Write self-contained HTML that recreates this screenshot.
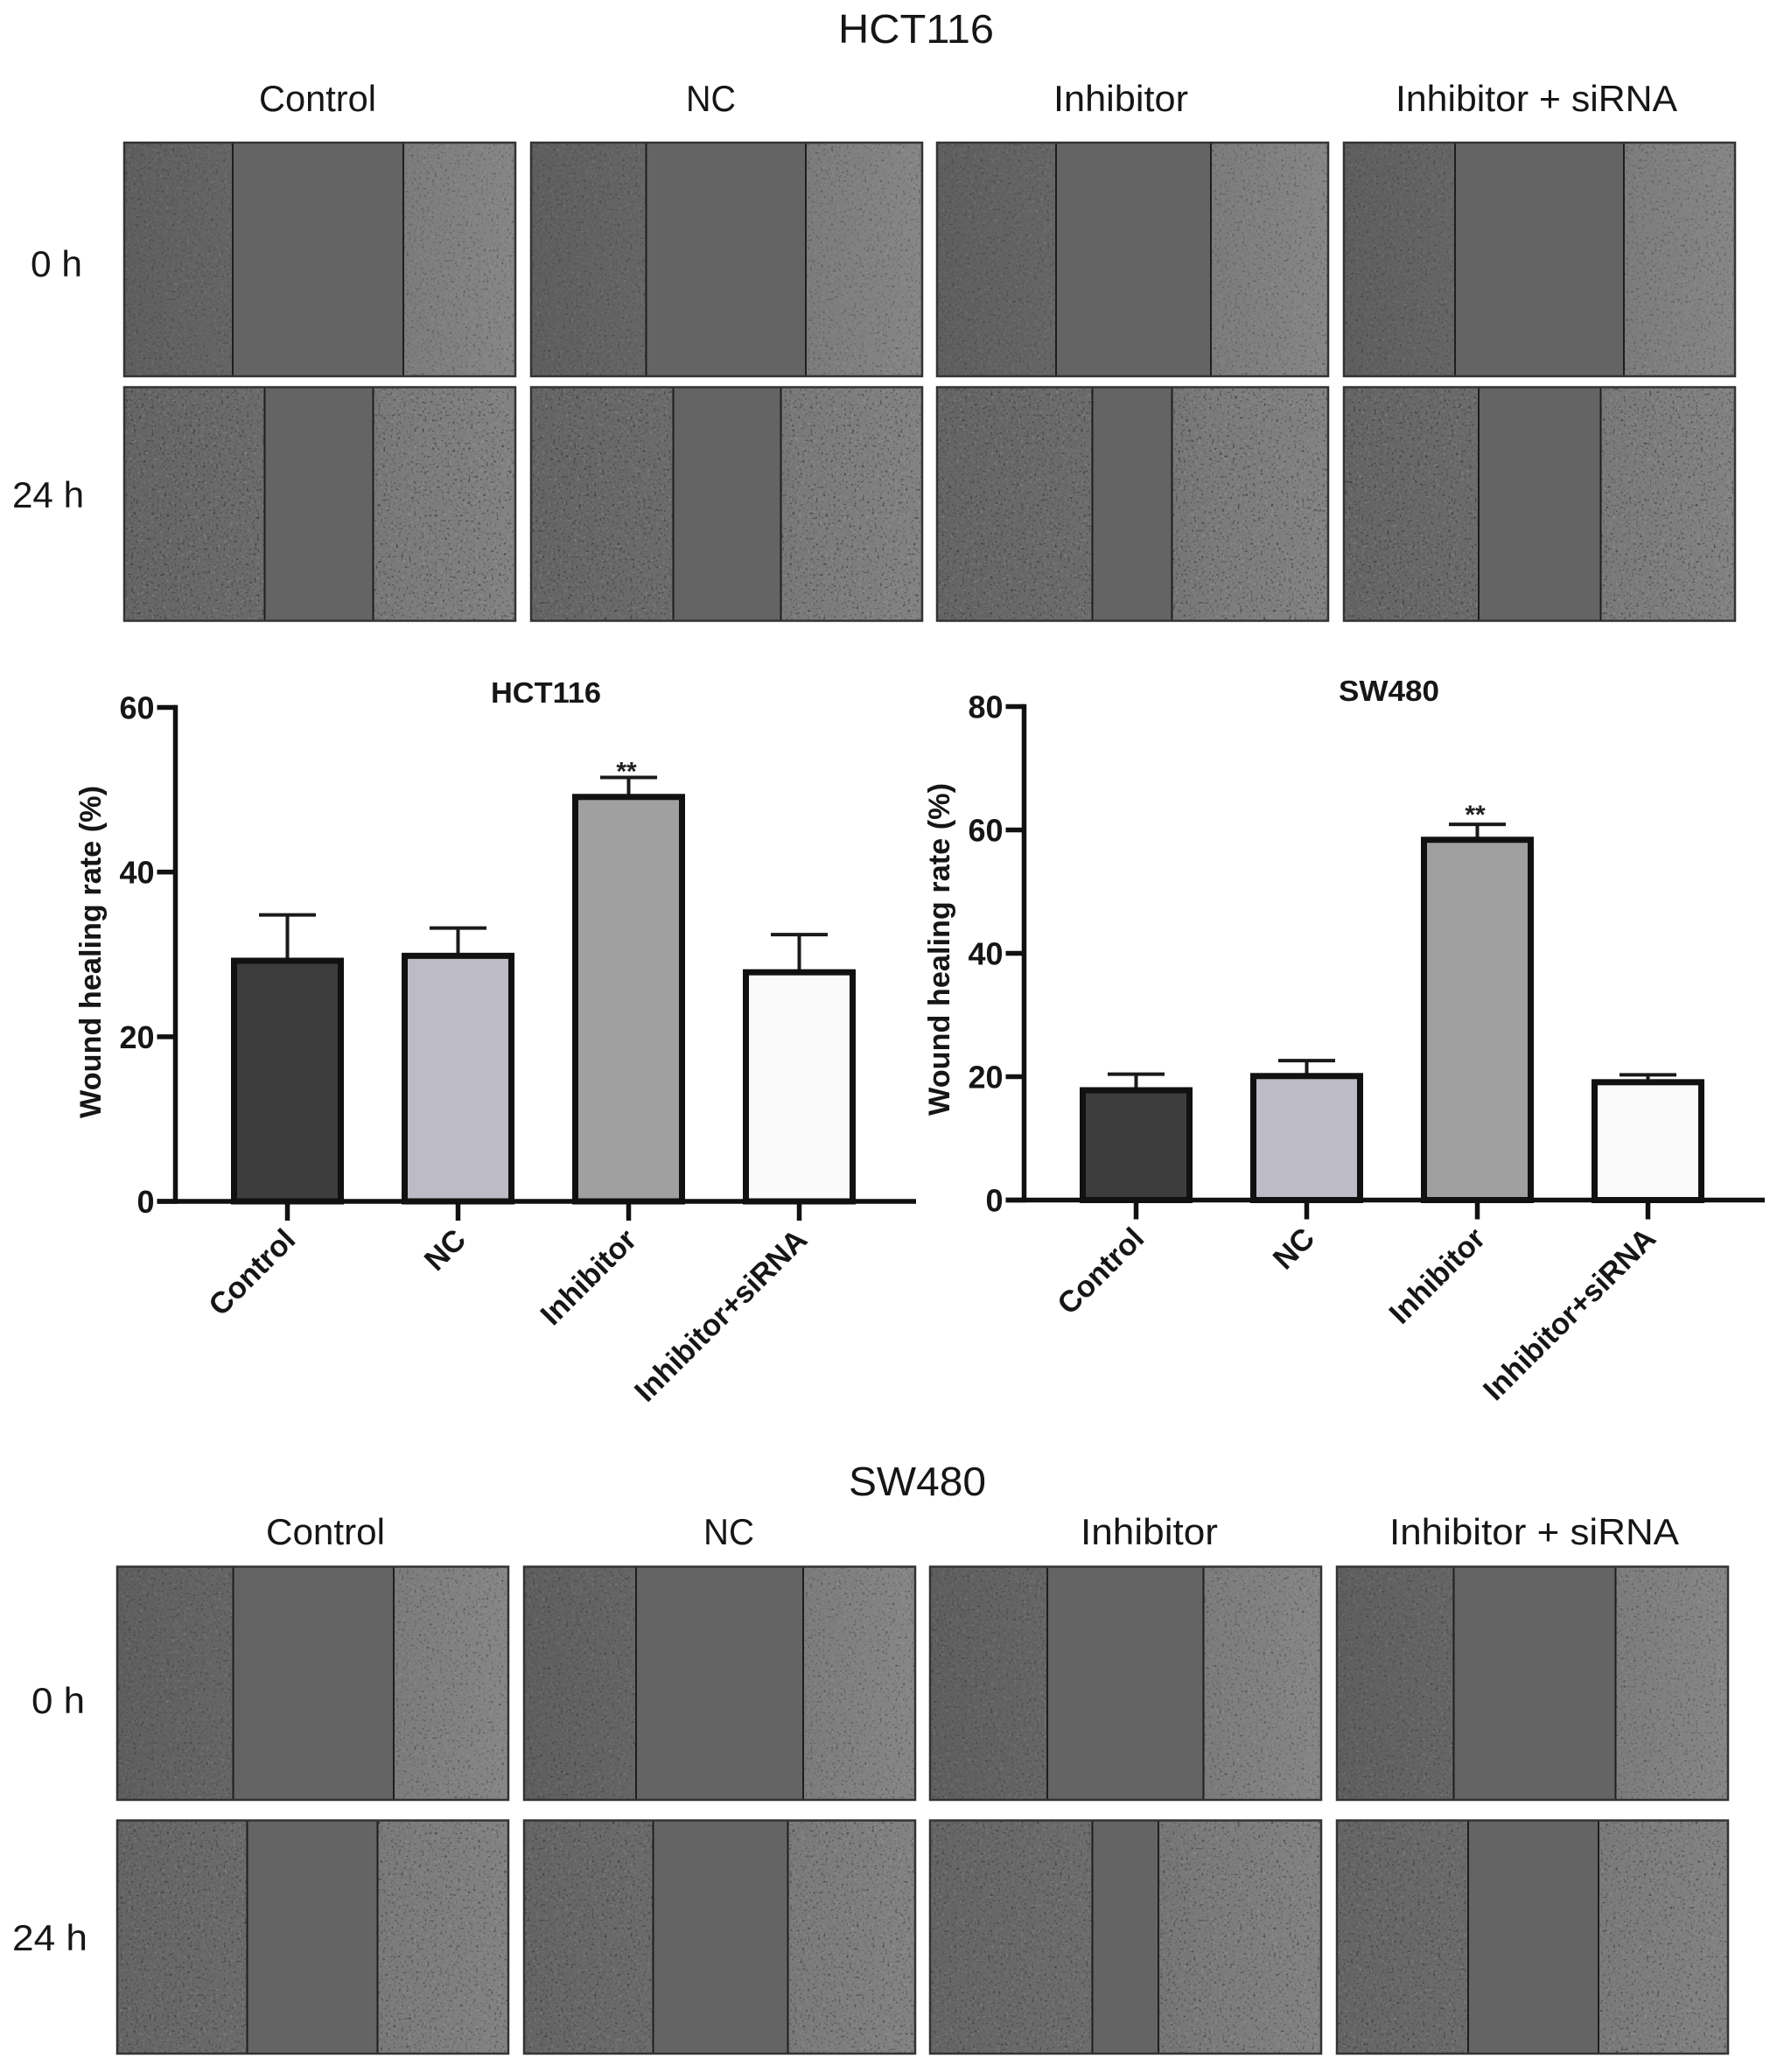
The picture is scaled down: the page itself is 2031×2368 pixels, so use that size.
<!DOCTYPE html>
<html lang="en">
<head>
<meta charset="utf-8">
<title>Wound healing assay: HCT116 and SW480</title>
<style>
html,body{margin:0;padding:0;background:#fff;}
svg{display:block;}
text{font-family:"Liberation Sans",Arial,sans-serif;fill:#161616;}
.b{font-weight:bold;}
</style>
</head>
<body>
<svg id="figure" xmlns="http://www.w3.org/2000/svg" width="2031" height="2368" viewBox="0 0 2031 2368">
<defs>
<filter id="darkSpeck" x="0" y="0" width="100%" height="100%" color-interpolation-filters="sRGB">
<feTurbulence type="fractalNoise" baseFrequency="0.34" numOctaves="2" seed="4"/>
<feColorMatrix type="matrix" values="0 0 0 0 0.14  0 0 0 0 0.14  0 0 0 0 0.14  5 0 0 0 -3"/>
</filter>
<filter id="lightSpeck" x="0" y="0" width="100%" height="100%" color-interpolation-filters="sRGB">
<feTurbulence type="fractalNoise" baseFrequency="0.3" numOctaves="2" seed="11"/>
<feColorMatrix type="matrix" values="0 0 0 0 0.8  0 0 0 0 0.8  0 0 0 0 0.8  0 3 0 0 -1.7"/>
</filter>
<linearGradient id="tissue0" x1="0" x2="1" y1="0" y2="0">
<stop offset="0" stop-color="#5e5e5e"/><stop offset="0.45" stop-color="#696969"/><stop offset="0.7" stop-color="#7b7b7b"/><stop offset="1" stop-color="#868686"/>
</linearGradient>
<linearGradient id="tissue24" x1="0" x2="1" y1="0" y2="0">
<stop offset="0" stop-color="#646464"/><stop offset="0.45" stop-color="#6d6d6d"/><stop offset="0.7" stop-color="#7a7a7a"/><stop offset="1" stop-color="#828282"/>
</linearGradient>
</defs>
<rect width="2031" height="2368" fill="#fff"/>

<g id="hct-images"></g>
<g id="sw-images"></g>

<text x="958" y="49" font-size="46" textLength="178" lengthAdjust="spacingAndGlyphs">HCT116</text>
<text x="296" y="127" font-size="42" textLength="134" lengthAdjust="spacingAndGlyphs">Control</text>
<text x="784" y="127" font-size="42" textLength="57" lengthAdjust="spacingAndGlyphs">NC</text>
<text x="1204" y="127" font-size="42" textLength="154" lengthAdjust="spacingAndGlyphs">Inhibitor</text>
<text x="1595" y="127" font-size="42" textLength="322" lengthAdjust="spacingAndGlyphs">Inhibitor + siRNA</text>
<text x="35" y="316" font-size="42" textLength="59" lengthAdjust="spacingAndGlyphs">0 h</text>
<text x="14" y="580" font-size="42" textLength="82" lengthAdjust="spacingAndGlyphs">24 h</text>

<text x="970" y="1709" font-size="46" textLength="157" lengthAdjust="spacingAndGlyphs">SW480</text>
<text x="304" y="1765" font-size="42" textLength="136" lengthAdjust="spacingAndGlyphs">Control</text>
<text x="804" y="1765" font-size="42" textLength="58" lengthAdjust="spacingAndGlyphs">NC</text>
<text x="1235" y="1765" font-size="42" textLength="157" lengthAdjust="spacingAndGlyphs">Inhibitor</text>
<text x="1588" y="1765" font-size="42" textLength="331" lengthAdjust="spacingAndGlyphs">Inhibitor + siRNA</text>
<text x="36" y="1958" font-size="42" textLength="61" lengthAdjust="spacingAndGlyphs">0 h</text>
<text x="14" y="2229" font-size="42" textLength="86" lengthAdjust="spacingAndGlyphs">24 h</text>

<g id="chart-hct">
<text class="b" x="561" y="803" font-size="33" textLength="126" lengthAdjust="spacingAndGlyphs">HCT116</text>
<text class="b" transform="translate(115 1278) rotate(-90)" x="0" y="0" font-size="34" textLength="380" lengthAdjust="spacingAndGlyphs">Wound healing rate (%)</text>
</g>
<g id="chart-sw">
<text class="b" x="1530" y="801" font-size="33" textLength="115" lengthAdjust="spacingAndGlyphs">SW480</text>
<text class="b" transform="translate(1085 1275) rotate(-90)" x="0" y="0" font-size="34" textLength="380" lengthAdjust="spacingAndGlyphs">Wound healing rate (%)</text>
</g>
</svg>

<script>
// Chart data
const categories = ['Control', 'NC', 'Inhibitor', 'Inhibitor+siRNA'];
const barFills = ['#3d3d3d', '#bcbbc6', '#a0a0a0', '#fafafa'];
const hctMeans = [29.6, 30.2, 49.5, 28.2];
const hctErrors = [5.2, 3.0, 2.0, 4.2];
const hctTicks = [0, 20, 40, 60];
const hctMarks = ['', '', '**', ''];
const swMeans = [18.3, 20.6, 58.9, 19.6];
const swErrors = [2.1, 2.0, 2.0, 0.7];
const swTicks = [0, 20, 40, 60, 80];
const swMarks = ['', '', '**', ''];

// Micrograph wound edges, one [left,right] pair per column
const hctWound0h = [[266, 461], [738.5, 921], [1207, 1384], [1663, 1856]];
const hctWound24h = [[302.5, 426.5], [769.5, 892.5], [1248.5, 1339.5], [1690, 1829.5]];
const swWound0h = [[266.5, 450], [727, 918], [1197, 1375.5], [1661.5, 1846.5]];
const swWound24h = [[282.5, 431.5], [746.5, 900.5], [1248.5, 1324], [1678, 1827]];

const NS = 'http://www.w3.org/2000/svg';
function mk(parent, tag, attrs, txt) {
  const n = document.createElementNS(NS, tag);
  for (const k in attrs) n.setAttribute(k, attrs[k]);
  if (txt !== undefined) n.textContent = txt;
  parent.appendChild(n);
  return n;
}

function drawMicrograph(parent, label, left, top, w, h, wound, grad, speckle) {
  const g = mk(parent, 'g', {});
  
  
  mk(g, 'rect', { x: left, y: top, width: w, height: h, fill: 'url(#' + grad + ')' });
  mk(g, 'rect', { x: left, y: top, width: w, height: h, filter: 'url(#darkSpeck)', opacity: speckle });
  mk(g, 'rect', { x: left, y: top, width: w, height: h, filter: 'url(#lightSpeck)', opacity: speckle * 0.45 });
  const band = mk(g, 'rect', { x: wound[0], y: top, width: wound[1] - wound[0], height: h, fill: '#646464' });
  
  
  mk(g, 'line', { x1: wound[0], x2: wound[0], y1: top, y2: top + h, stroke: '#1e1e1e', 'stroke-width': 2 });
  mk(g, 'line', { x1: wound[1], x2: wound[1], y1: top, y2: top + h, stroke: '#1e1e1e', 'stroke-width': 2 });
  mk(g, 'rect', { x: left, y: top, width: w, height: h, fill: 'none', stroke: '#333', 'stroke-width': 2.5 });
}

const groupNames = ['control', 'nc', 'inhibitor', 'inhibitor-sirna'];
const hctLefts = [142, 607, 1071, 1536];
const swLefts = [134, 599, 1063, 1528];
const hctG = document.getElementById('hct-images');
const swG = document.getElementById('sw-images');
groupNames.forEach(function (name, i) {
  drawMicrograph(hctG, 'hct116-' + name + '-0h-image', hctLefts[i], 163, 447, 267, hctWound0h[i], 'tissue0', 0.4);
  drawMicrograph(hctG, 'hct116-' + name + '-24h-image', hctLefts[i], 442.5, 447, 267, hctWound24h[i], 'tissue24', 0.6);
  drawMicrograph(swG, 'sw480-' + name + '-0h-image', swLefts[i], 1790.5, 447, 266.5, swWound0h[i], 'tissue0', 0.45);
  drawMicrograph(swG, 'sw480-' + name + '-24h-image', swLefts[i], 2080.5, 447, 266.5, swWound24h[i], 'tissue24', 0.55);
});

function drawChart(prefix, root, means, errors, ticks, marks, x0, xEnd, y0, yTop, firstCenter, starOffset) {
  const yMax = ticks[ticks.length - 1];
  const yScale = function (v) { return y0 - (v / yMax) * (y0 - yTop); };
  const xScale = function (i) { return firstCenter + i * 195; };
  const barHalf = 61;

  means.forEach(function (m, i) {
    const cx = xScale(i);
    const top = yScale(m);
    const err = mk(root, 'g', {});
    
    
    const capY = yScale(m + errors[i]);
    mk(err, 'line', { x1: cx, x2: cx, y1: top + 2, y2: capY, stroke: '#1a1a1a', 'stroke-width': 4 });
    mk(err, 'line', { x1: cx - 32.5, x2: cx + 32.5, y1: capY, y2: capY, stroke: '#1a1a1a', 'stroke-width': 4 });

    const bar = mk(root, 'rect', { x: cx - barHalf, y: top + 3.5, width: barHalf * 2, height: y0 - top - 3.5, fill: barFills[i], stroke: '#111', 'stroke-width': 7 });
    
    

    if (marks[i]) {
      const star = mk(root, 'text', { x: cx - 2.5, y: capY + starOffset, 'font-size': 30, 'text-anchor': 'middle' }, marks[i]);
      
      
      star.style.fill = '#222';
      star.style.fontWeight = 'bold';
    }

    const tick = mk(root, 'line', { x1: cx, x2: cx, y1: y0, y2: y0 + 22, stroke: '#111', 'stroke-width': 5.5 });
    
    

    const label = mk(root, 'text', { 'class': 'b', transform: 'translate(' + (cx + 11) + ' ' + (y0 + 46) + ') rotate(-45)', 'font-size': 34.5, 'text-anchor': 'end' }, categories[i]);
    
    
  });

  ticks.forEach(function (t) {
    const y = yScale(t);
    const tick = mk(root, 'line', { x1: x0 - 21, x2: x0, y1: y, y2: y, stroke: '#111', 'stroke-width': 5.5 });
    
    
    const label = mk(root, 'text', { 'class': 'b', x: x0 - 24, y: y + 13, 'font-size': 36, 'text-anchor': 'end' }, String(t));
    
    
  });

  const yAxis = mk(root, 'line', { x1: x0, x2: x0, y1: yTop - 2.75, y2: y0 + 2.75, stroke: '#111', 'stroke-width': 5.5 });
  
  
  const xAxis = mk(root, 'line', { x1: x0 - 21, x2: xEnd, y1: y0, y2: y0, stroke: '#111', 'stroke-width': 5.5 });
  
  
}

drawChart('hct116', document.getElementById('chart-hct'), hctMeans, hctErrors, hctTicks, hctMarks, 200.5, 1047, 1373, 808.5, 328.5, 3);
drawChart('sw480', document.getElementById('chart-sw'), swMeans, swErrors, swTicks, swMarks, 1170.5, 2017, 1371.5, 807.5, 1298.5, -1);
</script>
</body>
</html>
